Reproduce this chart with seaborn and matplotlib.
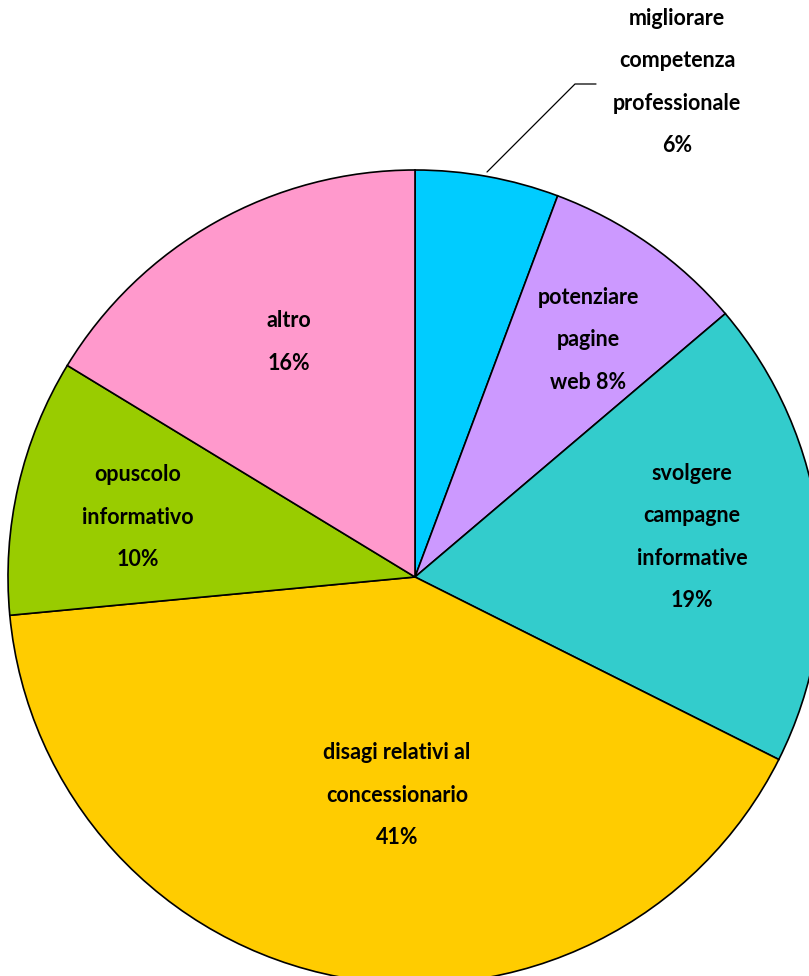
import matplotlib
matplotlib.use("Agg")
import matplotlib.pyplot as plt
import seaborn as sns

# ---- data (clockwise from 12 o'clock) ----
categories = [
    "migliorare\ncompetenza\nprofessionale",
    "potenziare\npagine\nweb",
    "svolgere\ncampagne\ninformative",
    "disagi relativi al\nconcessionario",
    "opuscolo\ninformativo",
    "altro",
]
values = [5.7, 8.1, 18.6, 41.1, 10.2, 16.3]
colors_hex = ["#00CCFF", "#CC99FF", "#33CCCC", "#FFCC00", "#99CC00", "#FF99CC"]

sns.set_theme(style="white")
plt.rcParams["font.family"] = ["Lato", "DejaVu Sans"]
palette = sns.color_palette(colors_hex)

W, H = 809, 976
fig = plt.figure(figsize=(W / 100, H / 100), dpi=100)
ax = fig.add_axes([0, 0, 1, 1])

cx, cy, R = 415, 577, 407  # pixel centre / radius of the pie

ax.pie(values, colors=palette, startangle=90, counterclock=False,
       radius=1.0, center=(0, 0),
       wedgeprops=dict(edgecolor="black", linewidth=1.2))

def px(x, y):
    return ((x - cx) / R, (cy - y) / R)

ax.set_xlim(px(0, 0)[0], px(W, 0)[0])
ax.set_ylim(px(0, H)[1], px(0, 0)[1])
ax.set_aspect("equal")
ax.axis("off")

total = sum(values)
pcts = [round(v / total * 100) for v in values]

# label centre positions in pixels (layout only)
label_pos = [(677, 82), (588, 340), (692, 537), (397, 795), (138, 517), (289, 342)]
for i, (cat, p, pos) in enumerate(zip(categories, pcts, label_pos)):
    if i == 1:
        txt = cat + f" {p}%"
    else:
        txt = cat + f"\n{p}%"
    x, y = px(*pos)
    ax.text(x, y, txt, ha="center", va="center", fontsize=15.5,
            fontweight="bold", linespacing=2.25, color="black")

# leader line for the small slice
lx = [px(487, 172)[0], px(575, 84)[0], px(596, 84)[0]]
ly = [px(487, 172)[1], px(575, 84)[1], px(596, 84)[1]]
ax.plot(lx, ly, color="black", linewidth=0.9)

fig.savefig("out.png", dpi=100)
